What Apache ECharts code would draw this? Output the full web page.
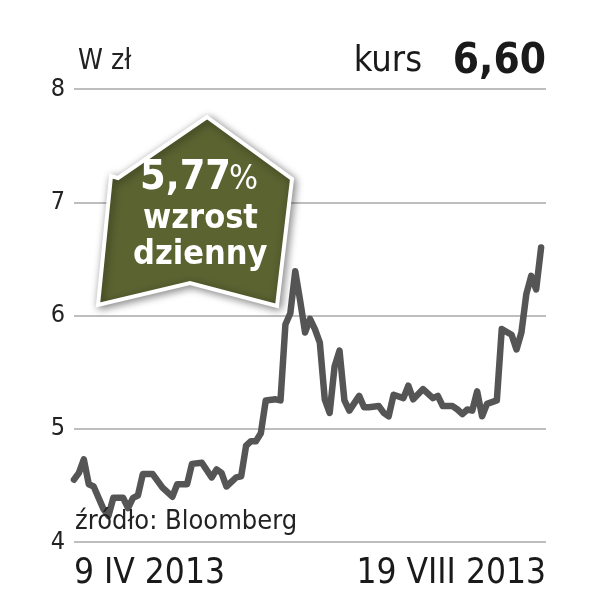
<!DOCTYPE html>
<html><head><meta charset="utf-8">
<script src="https://cdn.jsdelivr.net/npm/echarts@6/dist/echarts.min.js"></script>
<style>html,body{margin:0;padding:0;background:#fff}#c{width:608px;height:613px}</style>
</head><body><div id="c"></div>
<script>
// trading-day index (from 9 IV 2013) and closing price in zł
var dayIndex = [0,1,2,3,4,6,7,8,10,11,12,13,14,16,18,20,21,23,24,26,28,29,30,31,33,34,35,36,37,38,39,41,42,43,44,45,46,47,48,49,50,51,52,53,54,55,56,58,59,60,62,63,64,65,67,68,69,71,73,74,75,77,78,79,80,81,82,83,84,86,87,89,90,91,92,93,94,95];
var price = [4.55,4.61,4.73,4.51,4.49,4.29,4.23,4.39,4.39,4.30,4.39,4.41,4.60,4.60,4.48,4.40,4.51,4.51,4.69,4.70,4.57,4.64,4.61,4.49,4.57,4.58,4.85,4.89,4.89,4.96,5.25,5.26,5.25,5.92,6.02,6.39,6.13,5.85,5.97,5.88,5.76,5.26,5.14,5.55,5.69,5.25,5.16,5.29,5.19,5.19,5.20,5.14,5.11,5.30,5.27,5.38,5.26,5.35,5.27,5.29,5.20,5.20,5.17,5.13,5.17,5.16,5.33,5.11,5.22,5.25,5.88,5.83,5.70,5.85,6.19,6.35,6.23,6.60];
var xTickLabels = ['9 IV 2013', '19 VIII 2013'];
var yTicks = [4,5,6,7,8];
var unitLabel = 'W zł';
var lastLabel = 'kurs';
var lastValue = '6,60';
var badgeLines = ['5,77', '%', 'wzrost', 'dzienny'];
var sourceText = 'źródło: Bloomberg';

var FN = '"Liberation Sans Narrow","DejaVu Sans Condensed","Roboto",sans-serif';
var chart = echarts.init(document.getElementById('c'));
var pts = dayIndex.map(function(d,i){return [d, price[i]];});
var xMax = 96;
chart.setOption({
  animation:false,
  grid:{left:74,right:62,top:89,bottom:71},
  xAxis:{type:'value',min:0,max:xMax,interval:xMax,
    axisLine:{show:false},axisTick:{show:false},splitLine:{show:false},
    axisLabel:{show:true,margin:14,fontSize:35,color:'#1a1a1a',fontFamily:FN,
      alignMinLabel:'left',alignMaxLabel:'right',
      formatter:function(v){return v===0?xTickLabels[0]:(v===xMax?xTickLabels[1]:'');}}},
  yAxis:{type:'value',min:yTicks[0],max:yTicks[yTicks.length-1],interval:1,
    axisLine:{show:false},axisTick:{show:false},
    splitLine:{lineStyle:{color:'#a8a8a8',width:1.5}},
    axisLabel:{margin:9,fontSize:25,color:'#222',fontFamily:FN}},
  series:[{type:'line',data:pts,symbol:'none',
    lineStyle:{color:'#555555',width:6.5,join:'round',cap:'round'},z:3}],
  graphic:[
    {type:'text',left:78,top:48,style:{text:unitLabel,font:'28px '+FN,fill:'#222'}},
    {type:'text',right:186,top:44,style:{text:lastLabel,font:'36px '+FN,fill:'#1a1a1a'}},
    {type:'text',right:62,top:41,style:{text:lastValue,font:'bold 42px '+FN,fill:'#1a1a1a'}},
    {type:'text',left:75,top:508,z:10,style:{text:sourceText,font:'27px '+FN,fill:'#222'}},
    {type:'polygon',z:20,
      shape:{points:[[207,117],[292,179],[277,306],[190,283],[98,305],[111,176],[118,178]]},
      style:{fill:'#5b6331',stroke:'#ffffff',lineWidth:4,shadowBlur:8,shadowColor:'rgba(0,0,0,0.45)',shadowOffsetX:2,shadowOffsetY:2}},
    {type:'text',z:21,left:140,top:158,style:{text:badgeLines[0],font:'bold 41px '+FN,fill:'#fff'}},
    {type:'text',z:21,left:229,top:163,style:{text:badgeLines[1],font:'34px '+FN,fill:'#fff'}},
    {type:'text',z:21,left:143,top:202,style:{text:badgeLines[2],font:'bold 34px '+FN,fill:'#fff'}},
    {type:'text',z:21,left:133,top:238,style:{text:badgeLines[3],font:'bold 34px '+FN,fill:'#fff'}}
  ]
});
</script></body></html>
